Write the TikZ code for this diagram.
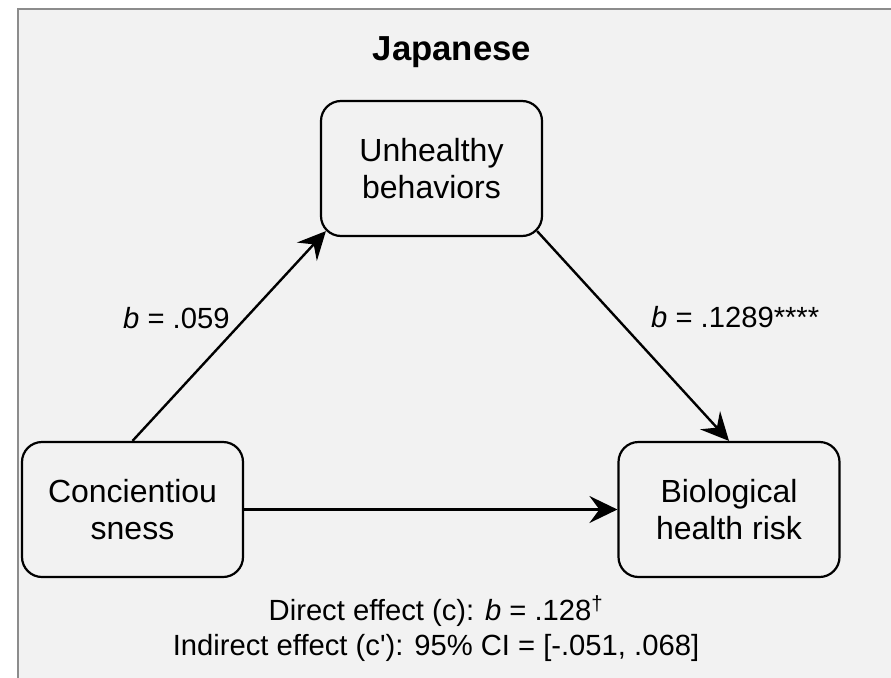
\documentclass[tikz,border=0pt]{standalone}
\usepackage{fontspec}
\setmainfont{Liberation Sans}[Ligatures=TeXOff]
\usetikzlibrary{arrows.meta,calc}
\definecolor{panel}{HTML}{F2F2F2}
\definecolor{panelborder}{HTML}{8C8C8C}
\begin{document}
\begin{tikzpicture}[x=1pt,y=-1pt,
  box/.style={draw=black, line width=2.2pt, rounded corners=20pt, fill=panel,
    minimum width=221pt, minimum height=135pt, inner sep=0pt, align=center,
    font=\fontsize{32}{37.8}\selectfont},
  conn/.style={line width=2.4pt, -{Stealth[length=28pt,width=27pt,inset=10pt]}},
  lbl/.style={font=\fontsize{29.2}{35}\selectfont, inner sep=0pt}
]
\useasboundingbox (0,0) rectangle (891,677);
\clip (0,0) rectangle (891,677);
\fill[white] (0,0) rectangle (891,677);
\draw[panelborder, fill=panel, line width=1.2pt] (18,9) rectangle (905,690);

\node[font=\fontsize{34.7}{40}\selectfont\bfseries, anchor=base, inner sep=0pt] (title) at (452,61) {Japanese};

\node[box] (unh) at (431.5,168.5) {Unhealthy\\behaviors};
\node[box] (conc) at (132.5,509.5) {Concientiou\\sness};
\node[box] (bio) at (729,509.5) {Biological\\health risk};

\draw[conn] (conc.north) -- ($(unh.south west)+(6,-6)$);
\draw[conn] ($(unh.south east)+(-6,-6)$) -- (bio.north);
\draw[conn] (conc.east) -- (bio.west);

\node[lbl, anchor=base west] (l1) at (123,328) {\textit{b} = .059};
\node[lbl, anchor=base west] (l2) at (651,327) {\textit{b} = .1289****};
\node[lbl, anchor=base] (direct) at (436,620) {Direct effect (c): \textit{b} = .128\textsuperscript{†}};
\node[lbl, anchor=base] (indirect) at (436,655) {Indirect effect (c'): 95\% CI = [-.051, .068]};
\end{tikzpicture}
\end{document}
